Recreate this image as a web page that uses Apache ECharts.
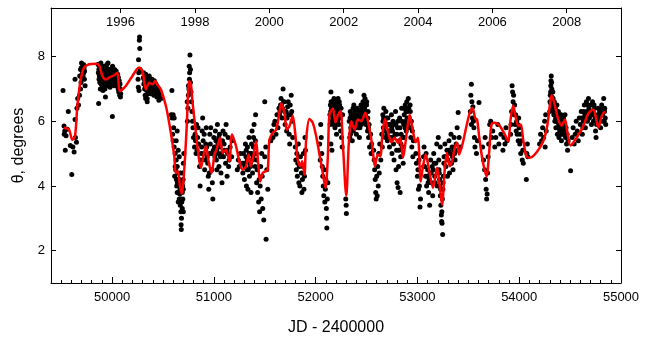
<!DOCTYPE html>
<html>
<head>
<meta charset="utf-8">
<script src="https://cdn.jsdelivr.net/npm/echarts@6/dist/echarts.min.js"></script>
<style>
  html, body { margin: 0; padding: 0; background: #fff; }
  #chart { width: 650px; height: 347px; }
</style>
</head>
<body>
<div id="chart"></div>
<script>
// x range (JD - 2400000) and y range (theta, degrees)
const jdMin = 49400
const jdMax = 55000
const thetaMin = 1
const thetaMax = 9.5

const jdLabelValues = [50000, 51000, 52000, 53000, 54000, 55000]
const thetaTicks = [2, 4, 6, 8]

// top axis: 1 January of even years
const yearLabels = [1996, 1998, 2000, 2002, 2004, 2006, 2008]
const yearJD = [50083.5, 50814.5, 51544.5, 52275.5, 53005.5, 53736.5, 54466.5]

// smoothed fit (red line)
const fitJD = [
  49528, 49577, 49610, 49636, 49659, 49692, 49725, 49774, 49840, 49872,
  49905, 49938, 49971, 50020, 50053, 50076, 50135, 50200, 50266, 50299,
  50332, 50365, 50397, 50424, 50450, 50480, 50529, 50561, 50588, 50611,
  50627, 50647, 50667, 50686, 50709, 50732, 50758, 50775, 50791, 50824,
  50850, 50873, 50896, 50923, 50948, 50978, 51004, 51031, 51061, 51086,
  51120, 51152, 51179, 51218, 51250, 51283, 51316, 51342, 51362, 51388,
  51415, 51435, 51454, 51480, 51506, 51529, 51546, 51578, 51612, 51644,
  51661, 51693, 51716, 51743, 51775, 51799, 51824, 51848, 51868, 51890,
  51907, 51939, 51972, 52005, 52038, 52070, 52097, 52120, 52136, 52169,
  52195, 52222, 52245, 52267, 52301, 52326, 52350, 52382, 52415, 52448,
  52488, 52523, 52557, 52582, 52612, 52635, 52655, 52681, 52710, 52744,
  52776, 52809, 52832, 52858, 52891, 52924, 52956, 52983, 53005, 53032,
  53055, 53081, 53114, 53153, 53193, 53219, 53242, 53268, 53291, 53318,
  53344, 53367, 53389, 53409, 53442, 53482, 53514, 53541, 53567, 53586,
  53606, 53639, 53679, 53704, 53728, 53760, 53810, 53859, 53891, 53915,
  53941, 53967, 53994, 54016, 54039, 54072, 54105, 54171, 54236, 54275,
  54302, 54319, 54351, 54384, 54417, 54450, 54472, 54505, 54564, 54630,
  54679, 54728, 54754, 54777, 54811, 54843
]
const fitTheta = [
  5.80, 5.74, 5.43, 5.54, 6.47, 7.29, 7.66, 7.76, 7.78, 7.73,
  7.40, 7.29, 7.35, 7.42, 7.50, 6.93, 7.09, 7.40, 7.66, 7.55,
  6.98, 7.19, 7.14, 7.24, 7.11, 6.98, 6.47, 5.95, 5.43, 4.92,
  4.40, 4.45, 3.99, 3.76, 4.50, 5.74, 7.24, 7.14, 6.57, 5.64,
  4.92, 4.56, 4.92, 5.23, 4.76, 4.40, 4.92, 5.18, 5.49, 5.02,
  5.12, 4.76, 5.59, 5.23, 4.76, 4.50, 4.61, 4.97, 4.61, 4.92,
  5.38, 4.71, 4.14, 4.40, 4.45, 4.50, 5.43, 5.64, 5.74, 6.26,
  6.55, 6.26, 5.74, 5.85, 6.16, 5.64, 4.81, 4.61, 4.76, 4.35,
  5.43, 6.07, 5.95, 5.54, 4.97, 4.40, 3.94, 4.92, 6.21, 6.39,
  5.97, 6.21, 6.31, 5.33, 3.70, 5.33, 6.00, 5.74, 6.05, 6.00,
  6.26, 5.85, 5.23, 4.61, 4.97, 4.92, 5.54, 6.07, 5.69, 5.35,
  5.49, 5.33, 5.49, 4.87, 5.54, 6.21, 5.69, 5.35, 5.49, 4.14,
  4.61, 4.97, 4.50, 3.94, 4.56, 3.99, 3.42, 4.50, 5.02, 4.61,
  4.81, 5.18, 5.33, 4.97, 5.28, 5.85, 6.26, 6.41, 6.10, 6.05,
  5.54, 4.81, 4.30, 5.02, 5.90, 5.95, 5.85, 5.59, 5.38, 6.05,
  6.49, 6.10, 5.85, 5.90, 5.43, 4.92, 4.87, 5.04, 5.38, 5.85,
  6.52, 6.80, 6.47, 6.05, 5.87, 6.05, 5.69, 5.25, 5.49, 5.85,
  6.24, 6.36, 6.10, 5.80, 6.16, 6.31
]

// individual measurements [JD - 2400000, theta]
const obsPoints = [
  [49518,6.95],[49528,5.85],[49535,5.7],[49530,5.6],[49540,5.1],[49548,5.55],[49560,5.75],[49570,6.3],
  [49590,5.25],[49604,4.35],[49615,5.2],[49627,5.05],[49636,6.05],[49640,5.5],[49650,5.35],[49655,6.4],
  [49662,6.7],[49636,7.3],[49670,6.5],[49682,7.4],[49690,7.6],[49700,7.8],[49705,7.45],[49712,7.7],
  [49720,7.75],[49725,7.65],[49735,7.1],[49730,7.55],[49680,6.8],[49695,7.2],[49690,7.0],
  [49698,7.65],[49708,7.55],[49715,7.4],[49722,7.5],[49728,7.3],[49702,7.35],
  [49862,7.75],[49870,7.6],[49875,7.4],[49880,7.2],[49885,7.0],[49868,6.55],[49890,7.8],[49895,7.5],
  [49900,7.3],[49905,7.1],[49910,6.95],[49915,7.65],[49920,7.45],[49925,7.25],[49930,7.0],[49935,6.75],
  [49940,7.7],[49945,7.5],[49950,7.35],[49955,7.15],[49960,7.8],[49965,7.55],[49970,7.4],[49975,7.2],
  [49980,7.05],[49985,7.6],[49990,7.35],[49995,7.15],[50003,6.15],[50005,7.7],[50010,7.5],[50015,7.3],
  [50020,7.1],[50025,7.6],[50030,7.4],[50035,7.2],[50040,7.55],[50045,7.35],[50050,7.15],[50055,7.45],
  [50060,7.0],[50065,6.9],[50070,7.25],[50075,6.8],[50080,7.0],[50085,6.85],[49900,7.7],[49950,7.75],
  [50000,7.65],
  [49865,7.5],[49872,7.3],[49878,7.65],[49888,7.35],[49892,7.15],[49898,7.0],[49908,7.55],[49912,7.25],
  [49918,7.05],[49922,7.7],[49928,7.4],[49932,7.2],[49942,7.3],[49948,7.1],[49952,7.6],[49958,7.45],
  [49962,7.25],[49968,7.1],[49972,7.6],[49978,7.45],[49982,7.3],[49988,7.5],[49992,7.2],[49998,7.45],
  [50008,7.4],[50012,7.2],[50018,7.55],[50022,7.35],[50028,7.25],[50032,7.5],[50038,7.3],[50042,7.1],
  [50048,7.45],[50052,7.3],[50058,7.2],[50062,7.35],[50068,7.05],[50072,6.95],[50078,7.15],[50082,6.75],
  [50270,8.6],[50268,8.5],[50272,8.25],[50260,7.9],[50262,7.5],[50258,7.05],[50265,6.95],[50255,7.3],
  [50275,7.6],
  [50310,7.5],[50315,7.3],[50320,7.0],[50325,6.8],[50330,7.45],[50335,7.2],[50340,6.95],[50345,6.7],
  [50350,7.35],[50355,7.15],[50360,6.9],[50365,7.4],[50370,7.25],[50375,7.0],[50380,6.85],[50385,7.3],
  [50390,7.1],[50395,6.95],[50400,7.2],[50405,7.0],[50410,6.8],[50415,7.25],[50420,7.1],[50425,6.9],
  [50430,7.15],[50435,7.0],[50440,6.75],[50445,7.05],[50450,6.9],[50460,6.65],[50470,6.85],[50480,6.7],
  [50330,6.7],[50345,6.6],[50588,6.95],
  [50308,7.35],[50312,7.15],[50318,7.45],[50322,7.25],[50328,7.05],[50332,7.3],[50338,7.1],[50342,7.25],
  [50348,7.05],[50352,6.85],[50358,7.25],[50362,7.05],[50368,6.95],[50372,7.1],[50378,7.2],[50382,6.95],
  [50388,7.05],[50392,7.3],[50398,6.9],[50402,7.1],[50408,7.2],[50412,6.95],[50418,7.0],[50422,6.85],
  [50428,7.05],[50432,6.9],[50438,7.1],[50442,6.9],[50448,7.0],[50455,6.75],
  [50680,2.65],[50678,2.8],[50682,3.0],[50676,3.2],[50670,3.4],[50660,3.6],[50665,3.75],[50672,3.85],
  [50655,4.0],[50650,4.2],[50645,4.4],[50640,4.6],[50630,4.8],[50620,5.0],[50610,5.2],[50600,5.4],
  [50595,5.6],[50605,5.8],[50590,6.1],[50600,6.2],[50625,4.5],[50635,4.0],[50640,3.8],[50650,3.5],
  [50690,3.8],[50695,3.6],[50700,3.9],[50685,3.5],[50688,4.1],[50692,4.4],[50700,4.7],[50705,5.0],
  [50615,4.3],[50620,4.6],[50630,5.4],[50640,5.7],[50650,5.1],[50660,4.9],[50670,4.4],[50580,6.2],
  [50610,6.1],[50690,3.3],[50700,3.2],
  [50632,4.2],[50642,4.1],[50652,3.8],[50662,4.2],[50668,3.9],[50675,3.6],[50684,3.9],[50694,4.0],
  [50698,4.2],
  [50740,6.0],[50745,6.4],[50750,6.8],[50755,7.0],[50760,7.3],[50762,7.5],[50758,7.7],[50765,8.05],
  [50770,7.2],[50775,6.9],[50780,6.6],[50785,6.3],[50790,6.0],[50795,5.8],[50800,5.5],[50750,7.1],
  [50738,6.6],[50770,7.6],
  [50810,5.2],[50815,5.6],[50825,5.0],[50830,5.9],[50840,5.5],[50850,5.3],[50860,4.6],[50865,4.0],
  [50870,4.8],[50880,5.2],[50885,5.7],[50890,6.1],[50895,5.4],[50900,5.0],[50910,4.5],[50915,4.8],
  [50920,5.3],[50925,5.8],[50930,5.2],[50940,4.7],[50945,4.3],[50950,3.9],[50955,4.4],[50960,5.6],
  [50965,5.3],[50970,5.8],[50975,5.0],[50980,4.5],[50985,4.1],[50990,3.6],[51000,5.5],[51005,5.2],
  [51010,4.9],[51015,5.7],[51020,5.4],[51025,4.8],[51030,4.5],[51035,5.9],[51040,5.3],[51045,5.0],
  [51050,4.6],[51055,5.6],[51060,5.2],[51065,4.9],[51070,4.4],[51080,4.1],[51085,5.4],[51090,5.7],
  [51095,4.9],[51100,5.3],[51110,5.6],[51115,4.7],[51125,5.1],[51130,4.3],[51140,5.5],[51150,4.8],
  [51160,5.2],[51175,4.9],[51180,5.4],[51120,5.9],
  [50820,5.4],[50835,5.1],[50845,5.8],[50875,5.0],[50905,5.6],[50935,4.9],[50958,5.0],[50995,5.1],
  [51028,5.1],[51048,5.5],[51075,5.0],[51105,5.1],[51135,5.0],[51145,4.6],
  [51230,4.5],[51240,4.8],[51250,4.6],[51260,5.0],[51280,4.7],[51285,4.4],[51290,5.0],[51300,4.2],
  [51305,4.6],[51310,5.3],[51315,4.9],[51320,4.0],[51325,4.5],[51330,5.2],[51335,3.9],[51340,4.8],
  [51345,5.5],[51350,4.3],[51355,5.0],[51360,4.6],[51365,3.8],[51370,5.3],[51375,5.7],[51380,4.4],
  [51385,4.9],[51390,5.5],[51395,5.9],[51400,5.2],[51405,4.6],[51410,6.2],[51415,5.0],[51420,4.1],
  [51425,4.5],[51430,3.8],[51440,3.5],[51445,4.2],[51450,3.2],[51455,4.0],[51460,4.6],[51465,3.6],
  [51470,5.0],[51475,4.3],[51480,3.3],[51490,2.95],[51500,4.9],[51510,5.2],[51513,2.35],[51520,4.5],
  [51530,3.9],[51500,6.6],
  [51295,4.7],[51318,5.1],[51328,4.8],[51338,4.5],[51348,5.0],[51358,4.7],[51368,5.0],[51378,4.8],
  [51388,5.2],[51398,5.0],[51408,5.4],[51418,4.8],
  [51560,5.4],[51570,5.7],[51580,5.5],[51590,5.9],[51600,6.0],[51610,5.6],[51620,6.2],[51630,5.8],
  [51640,6.4],[51650,6.3],[51660,6.7],[51665,6.5],[51670,6.1],[51680,7.0],[51690,6.6],[51700,5.9],
  [51710,6.3],[51715,5.7],[51720,6.1],[51725,6.45],[51730,6.6],[51735,6.2],[51740,5.6],[51745,5.3],
  [51750,6.5],[51760,6.8],[51765,6.3],[51770,6.0],[51775,5.5],
  [51645,6.2],[51655,6.5],[51675,6.4],[51685,6.6],[51695,6.3],[51705,6.1],[51755,6.2],
  [51800,5.2],[51805,4.8],[51810,4.5],[51815,5.0],[51820,4.3],[51825,4.7],[51830,5.3],[51835,4.1],
  [51840,4.6],[51845,4.0],[51850,4.9],[51860,4.4],[51865,3.8],[51870,4.2],[51875,4.6],[51880,5.0],
  [51885,3.9],[51890,4.3],[51895,5.5],[51900,5.1],
  [52040,5.3],[52045,4.8],[52050,5.9],[52055,5.5],[52060,5.0],[52065,4.6],[52070,4.3],[52075,4.0],
  [52080,3.7],[52085,4.5],[52090,3.5],[52095,3.9],[52100,4.2],[52105,3.3],[52108,3.0],[52110,2.7],
  [52115,3.6],[52120,4.1],
  [52140,6.2],[52145,6.5],[52150,6.9],[52155,6.4],[52160,6.0],[52165,6.6],[52170,6.3],[52175,5.9],
  [52180,6.7],[52185,6.2],[52190,5.8],[52195,6.5],[52200,6.1],[52205,5.6],[52210,6.4],[52215,6.0],
  [52220,6.7],[52225,6.3],[52230,5.9],[52235,6.5],[52240,6.1],[52245,5.7],[52250,6.4],[52255,5.5],
  [52260,5.2],[52265,6.2],[52150,5.3],[52160,5.1],
  [52142,5.9],[52148,6.3],[52152,6.6],[52158,6.2],[52162,6.45],[52168,6.1],[52172,6.5],[52178,6.0],
  [52182,6.4],[52188,6.05],[52192,6.6],[52198,6.3],[52202,5.9],[52208,6.2],[52212,6.55],[52218,6.15],
  [52222,6.45],[52228,6.1],[52232,6.6],[52238,6.25],
  [52296,3.6],[52300,3.4],[52302,3.15],
  [52330,6.0],[52335,5.5],[52340,6.3],[52345,5.8],[52350,6.93],[52360,5.4],[52365,6.2],[52370,5.7],
  [52375,6.5],[52380,6.1],[52390,5.9],[52395,6.3],[52400,5.6],[52405,6.0],[52410,6.4],[52420,5.8],
  [52425,6.2],[52430,5.5],[52440,6.1],[52445,6.5],[52450,5.9],[52460,6.3],[52465,6.6],[52470,6.0],
  [52475,6.8],[52480,6.4],[52485,6.7],[52490,6.2],[52495,5.9],[52500,6.5],[52505,6.1],[52510,5.7],
  [52515,6.3],[52520,5.5],[52525,5.9],[52530,5.2],[52540,5.6],[52545,5.0],[52550,5.3],
  [52338,6.1],[52342,5.6],[52348,6.2],[52355,5.9],[52362,6.0],[52368,6.4],[52378,5.9],[52385,6.3],
  [52392,6.1],[52398,5.8],[52408,6.2],[52415,5.9],[52422,6.3],[52428,6.0],[52435,5.8],[52442,6.3],
  [52448,6.1],[52455,6.4],[52462,6.1],[52468,6.4],[52472,6.2],[52478,6.6],[52482,6.2],[52488,6.5],
  [52492,6.0],[52498,6.3],[52502,6.6],[52508,5.9],[52512,6.1],[52518,5.8],
  [52570,5.1],[52575,4.8],[52580,4.5],[52585,4.2],[52590,3.8],[52595,3.6],[52600,4.3],[52605,3.7],
  [52610,4.6],[52615,4.0],[52620,5.0],[52625,4.4],[52630,5.3],[52640,4.8],[52650,5.6],[52655,5.2],
  [52660,6.2],[52665,5.8],[52670,6.4],[52680,6.0],[52685,5.5],[52690,6.3],[52700,5.9],[52705,5.4],
  [52710,6.1],[52720,5.7],[52725,5.2],[52730,5.9],[52740,5.5],[52745,6.2],[52750,5.0],[52755,5.7],
  [52760,6.0],[52765,5.3],[52770,4.8],[52780,5.6],[52785,6.3],[52790,4.5],[52795,5.1],[52800,4.1],
  [52805,5.8],[52810,3.95],[52815,4.6],[52820,5.4],[52825,6.1],[52830,3.8],[52835,4.9],[52840,5.6],
  [52845,6.4],[52850,5.2],[52860,4.7],[52865,5.9],[52870,6.2],[52875,5.5],[52880,6.5],[52885,6.0],
  [52890,5.7],[52895,6.6],[52900,6.3],[52905,5.9],[52910,6.7],[52915,6.4],[52920,6.1],[52925,5.8],
  [52930,6.3],[52935,5.5],[52940,6.0],[52945,5.2],[52950,5.7],[52955,4.9],[52960,5.4],
  [52662,6.0],[52668,6.1],[52675,5.7],[52688,5.9],[52695,6.1],[52702,5.6],[52715,5.9],[52722,5.5],
  [52735,5.7],[52748,5.8],[52762,5.5],[52775,5.9],[52788,5.9],[52798,5.6],[52808,6.0],[52818,5.1],
  [52828,5.8],[52838,5.3],[52848,6.0],[52858,5.5],[52868,6.4],[52878,5.8],[52888,6.3],[52898,6.1],
  [52908,6.4],[52918,6.0],[52928,6.5],[52938,5.8],
  [52985,5.0],[52990,4.7],[53000,4.3],[53005,4.5],[53010,3.9],[53015,4.8],[53020,4.0],[53025,3.35],
  [53030,3.6],
  [53060,4.9],[53065,5.2],[53070,4.6],[53080,4.3],[53085,5.0],[53090,4.0],[53100,4.5],[53110,3.8],
  [53115,4.2],[53120,3.4],[53125,4.4],[53130,4.8],[53140,4.1],[53150,3.7],[53155,4.5],[53160,5.0],
  [53170,4.3],[53180,4.7],[53190,5.3],[53195,4.0],
  [53062,4.6],[53072,4.9],[53095,4.3],[53105,4.1],[53135,4.4],[53145,4.6],[53165,4.7],[53175,4.1],
  [53205,5.5],[53210,4.8],[53215,4.4],[53220,4.0],[53225,3.7],[53225,5.2],[53230,3.4],[53235,3.1],
  [53238,2.9],[53240,3.2],[53242,2.85],[53245,3.6],[53248,2.5],[53250,3.9],[53255,4.3],[53260,4.7],
  [53212,4.5],[53218,4.2],[53228,3.9],[53232,3.7],[53252,4.1],[53262,4.9],
  [53270,5.3],[53275,4.9],[53280,4.6],[53290,5.1],[53295,4.3],[53300,4.8],[53310,5.4],[53315,4.4],
  [53320,5.0],[53330,5.6],[53335,4.7],[53340,5.2],[53350,4.5],[53360,5.5],[53365,5.0],[53370,4.8],
  [53380,5.3],[53390,5.8],[53395,5.1],[53400,6.27],[53410,5.5],[53420,5.2],
  [53285,4.9],[53305,5.1],[53325,4.7],[53345,4.9],[53355,5.1],
  [53520,6.3],[53525,6.8],[53530,7.14],[53535,6.6],[53540,6.1],[53530,5.9],[53545,6.45],[53550,6.0],
  [53555,5.8],[53560,5.5],[53565,5.2],[53580,5.0],[53590,5.4],[53605,6.58],
  [53640,5.2],[53650,4.8],[53660,4.5],[53665,5.5],[53670,4.2],[53675,3.9],[53680,3.6],[53685,3.75],
  [53690,4.4],[53695,4.9],[53700,5.3],
  [53710,5.9],[53720,6.0],[53730,5.5],[53740,5.7],[53760,5.2],[53770,5.5],[53790,5.9],[53800,5.3],
  [53820,5.6],[53840,5.1],[53850,5.5],[53860,5.3],[53870,5.8],[53880,5.4],
  [53915,5.6],[53920,5.9],[53925,6.3],[53930,7.1],[53935,6.9],[53940,6.6],[53945,6.8],[53950,6.2],
  [53955,6.5],[53960,5.9],[53965,6.2],[53970,5.7],[53975,6.0],[53980,5.6],[53985,5.9],[53990,5.4],
  [53995,6.1],[54000,5.8],[54005,5.3],[54010,5.6],[54015,5.0],[54020,5.4],[54030,4.8],[54035,5.1],
  [54040,4.7],[54070,4.2],[54075,5.0],[54080,5.3],[54085,4.9],
  [54200,5.3],[54210,5.6],[54220,5.4],[54230,5.8],[54240,5.5],[54250,6.0],[54255,5.2],[54260,6.2],
  [54265,5.7],[54300,6.3],[54305,6.8],[54310,7.1],[54315,7.4],[54318,7.2],[54320,6.9],[54325,6.6],
  [54330,6.9],[54335,6.5],[54340,6.2],[54345,6.6],[54350,6.0],[54355,6.4],[54360,5.8],[54365,6.2],
  [54370,6.5],[54375,5.6],[54380,6.0],[54385,6.3],[54390,5.5],[54395,5.9],[54400,6.2],[54405,5.7],
  [54410,6.0],[54415,5.4],[54420,5.8],[54425,6.1],[54430,5.6],[54440,5.9],[54450,6.2],[54455,5.5],
  [54460,5.8],[54465,5.3],[54470,5.6],[54475,5.1],[54480,5.4],[54310,6.55],[54320,7.0],[54505,4.47],
  [54302,6.6],[54308,6.9],[54312,7.25],[54322,6.75],[54328,6.4],[54332,6.7],[54338,6.3],[54342,6.45],
  [54348,6.2],[54352,6.3],[54358,6.1],[54362,6.0],[54368,6.3],[54372,6.0],[54378,5.8],[54382,6.2],
  [54388,5.9],[54392,6.1],[54398,5.7],[54402,6.0],[54408,5.9],[54412,6.2],[54418,5.6],[54422,6.0],
  [54428,5.8],[54435,6.1],[54445,5.7],
  [54520,5.5],[54530,5.8],[54540,5.3],[54550,5.6],[54560,6.0],[54570,5.7],[54580,5.4],[54590,6.1],
  [54600,5.9],[54610,6.3],[54620,5.6],[54630,6.0],[54640,6.5],[54645,6.2],[54650,5.8],[54660,6.6],
  [54665,6.3],[54670,6.0],[54680,6.7],[54685,6.4],[54690,6.1],[54700,6.5],[54705,6.2],[54710,5.9],
  [54720,6.6],[54725,6.3],[54730,6.0],[54740,6.4],[54745,6.1],[54750,5.7],[54755,5.5],[54760,5.9],
  [54770,6.2],[54780,6.0],[54790,6.3],[54800,5.8],[54810,6.5],[54820,6.2],[54830,6.7],[54835,6.0],
  [54840,6.4],[54845,6.1],[54850,5.9],
  [54615,6.1],[54625,5.8],[54635,6.3],[54655,6.1],[54675,6.5],[54695,6.3],[54715,6.2],[54735,6.5],
  [54765,6.0],[54775,6.4],[54785,6.1],[54795,6.0],[54805,6.2],[54815,6.4],[54825,6.0],[54838,6.3]
]

const chart = echarts.init(document.getElementById('chart'))

const textStyle = { color: '#000', fontFamily: 'Liberation Sans, Arial, sans-serif' }
const axisLine = { show: true, lineStyle: { color: '#000', width: 1 } }

const option = {
  animation: false,
  backgroundColor: '#fff',
  grid: { left: 51, right: 29, top: 8, bottom: 64 },
  xAxis: [
    {
      type: 'value', position: 'bottom', min: jdMin, max: jdMax, interval: 100,
      name: 'JD - 2400000', nameLocation: 'middle', nameGap: 37,
      nameTextStyle: { ...textStyle, fontSize: 16 },
      axisLine,
      axisTick: { inside: true, length: 3, lineStyle: { color: '#000' } },
      axisLabel: {
        ...textStyle, fontSize: 13, margin: 8, showMaxLabel: true,
        formatter: v => (v % 1000 === 0 ? String(v) : '')
      },
      splitLine: { show: false }
    },
    {
      type: 'value', position: 'bottom', min: jdMin, max: jdMax,
      axisLine: { show: false },
      axisTick: { inside: true, length: 6, customValues: jdLabelValues, lineStyle: { color: '#000' } },
      axisLabel: { show: false },
      splitLine: { show: false }
    },
    {
      type: 'value', position: 'top', min: jdMin, max: jdMax,
      axisLine,
      axisTick: { inside: true, length: 5, customValues: yearJD, lineStyle: { color: '#000' } },
      axisLabel: {
        ...textStyle, fontSize: 13, inside: true, margin: 8, customValues: yearJD,
        formatter: v => {
          const i = yearJD.indexOf(v)
          return i >= 0 ? String(yearLabels[i]) : ''
        }
      },
      splitLine: { show: false }
    }
  ],
  yAxis: [
    {
      type: 'value', position: 'left', min: thetaMin, max: thetaMax,
      name: 'θ, degrees', nameLocation: 'middle', nameGap: 17,
      nameTextStyle: { ...textStyle, fontSize: 16 },
      axisLine,
      axisTick: { inside: true, length: 5, customValues: thetaTicks, lineStyle: { color: '#000' } },
      axisLabel: { ...textStyle, fontSize: 13, margin: 6, customValues: thetaTicks },
      splitLine: { show: false }
    },
    {
      type: 'value', position: 'right', min: thetaMin, max: thetaMax,
      axisLine,
      axisTick: { inside: true, length: 5, customValues: thetaTicks, lineStyle: { color: '#000' } },
      axisLabel: { show: false },
      splitLine: { show: false }
    }
  ],
  series: [
    {
      name: 'observations',
      type: 'scatter',
      xAxisIndex: 0,
      yAxisIndex: 0,
      data: obsPoints,
      symbol: 'circle',
      symbolSize: 5,
      itemStyle: { color: '#000', opacity: 1 },
      z: 2
    },
    {
      name: 'fit',
      type: 'line',
      xAxisIndex: 0,
      yAxisIndex: 0,
      data: fitJD.map((x, i) => [x, fitTheta[i]]),
      showSymbol: false,
      smooth: 0.3,
      lineStyle: { color: '#ff0000', width: 2.5 },
      z: 3
    }
  ]
}

chart.setOption(option)
</script>
</body>
</html>
